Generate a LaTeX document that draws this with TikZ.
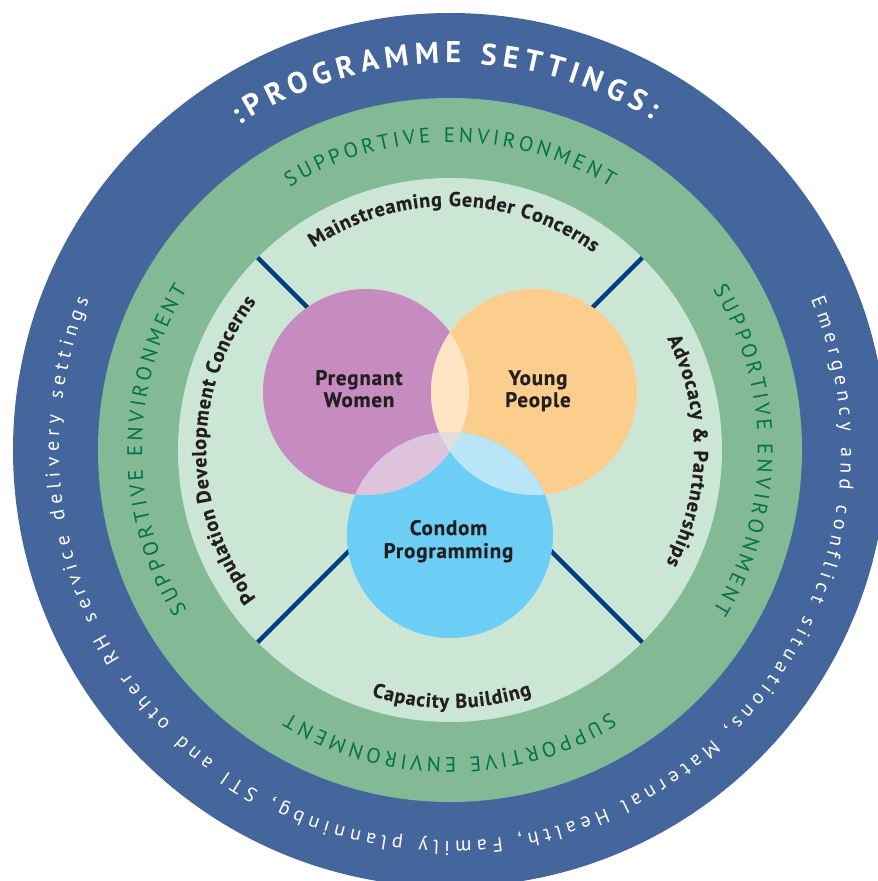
\documentclass[tikz,border=0pt]{standalone}
\usepackage{fontspec}
\setmainfont{PT Sans}
\newfontfamily\lblfont{PT Sans}[UprightFont={* Bold}, UprightFeatures={FakeBold=0.6}]
\newfontfamily\vennfont{PT Sans}[UprightFont={* Bold}, UprightFeatures={FakeBold=0.6, LetterSpace=4}]
\usetikzlibrary{decorations.text}
\definecolor{ringblue}{HTML}{45669C}
\definecolor{ringgreen}{HTML}{84B995}
\definecolor{innergreen}{HTML}{CCE6D6}
\definecolor{navy}{HTML}{003E7E}
\definecolor{venpurple}{HTML}{C68BBF}
\definecolor{venorange}{HTML}{FBCE8D}
\definecolor{venblue}{HTML}{6CCEF5}
\definecolor{ovpo}{HTML}{FDE5C3}
\definecolor{ovpb}{HTML}{DFC3DD}
\definecolor{ovob}{HTML}{B9E5F9}
\definecolor{ovall}{HTML}{E3DDDD}
\definecolor{envgreen}{HTML}{00734A}
\definecolor{labelblack}{HTML}{231F20}
\begin{document}
\begin{tikzpicture}[x=1pt,y=1pt,
  curvetext/.style={decorate, decoration={text along path, text align={fit to path}, #1}},
  vennlabel/.style={anchor=base, font=\vennfont\fontsize{21}{21}\selectfont, text=labelblack, inner sep=0pt},
  divider/.style={draw=navy, line width=4.5pt}]
\clip (-450,-431) rectangle (428,450);
\fill[white] (-450,-431) rectangle (428,450);
% rings
\fill[ringblue] (0,0) circle[radius=437];
\fill[ringgreen] (0,0) circle[radius=352];
\fill[innergreen] (0,0) circle[radius=272];
% dividers
\coordinate (c) at (0,0);
\coordinate (ul) at (135:272);
\coordinate (ur) at (45:272);
\coordinate (ll) at (225:272);
\coordinate (lr) at (315:272);
\draw[divider] (c) -- (ul);
\draw[divider] (c) -- (ur);
\draw[divider] (c) -- (ll);
\draw[divider] (c) -- (lr);
% venn
\def\pw{(-84,58) circle[radius=103]}
\def\yp{(84,58) circle[radius=103]}
\def\cp{(0,-85) circle[radius=103]}
\fill[venpurple] \pw;
\fill[venorange] \yp;
\fill[venblue] \cp;
\begin{scope}\clip \pw; \fill[ovpo] \yp; \end{scope}
\begin{scope}\clip \pw; \fill[ovpb] \cp; \end{scope}
\begin{scope}\clip \yp; \fill[ovob] \cp; \end{scope}
\begin{scope}\clip \pw; \clip \yp; \fill[ovall] \cp; \end{scope}
\node[vennlabel] (pw1) at (-91,65) {Pregnant};
\node[vennlabel] (pw2) at (-91,43) {Women};
\node[vennlabel] (yp1) at (88,65) {Young};
\node[vennlabel] (yp2) at (88,43) {People};
\node[vennlabel] (cp1) at (-1.5,-85) {Condom};
\node[vennlabel] (cp2) at (-1.5,-108) {Programming};
% outer ring texts
\path[curvetext={text={|\bfseries\fontsize{30}{30}\selectfont|:PROGRAMME SETTINGS:}, text color=white}]
  (123:387) arc[start angle=123, end angle=58.5, radius=387];
\path[curvetext={text={|\fontsize{20}{20}\selectfont|Emergency and conflict situations, Maternal Health, Family planninbg, STI and other RH service delivery settings}, text color=white}]
  (22.6:391) arc[start angle=22.6, end angle=-202.6, radius=391];
% supportive environment
\foreach \a in {90,0,-90,180}{
  \path[curvetext={text={|\fontsize{21}{21}\selectfont|SUPPORTIVE ENVIRONMENT}, text color=envgreen}]
    ({\a+31.4}:308) arc[start angle={\a+31.4}, end angle={\a-31.4}, radius=308];
}
% inner labels
\path[curvetext={text={|\lblfont\fontsize{20}{20}\selectfont|Mainstreaming Gender Concerns}, text color=labelblack}]
  (124:244) arc[start angle=124, end angle=54, radius=244];
\path[curvetext={text={|\lblfont\fontsize{20}{20}\selectfont|Advocacy {\&} Partnerships}, text color=labelblack}]
  (27.2:244) arc[start angle=27.2, end angle=-27.6, radius=244];
\path[curvetext={text={|\lblfont\fontsize{20}{20}\selectfont|Population Development Concerns}, text color=labelblack}]
  (217.4:244) arc[start angle=217.4, end angle=142.6, radius=244];
\path[curvetext={text={|\lblfont\fontsize{20}{20}\selectfont|Capacity Building}, text color=labelblack}]
  (-107.7:258) arc[start angle=-107.7, end angle=-71.5, radius=258];
\end{tikzpicture}
\end{document}
